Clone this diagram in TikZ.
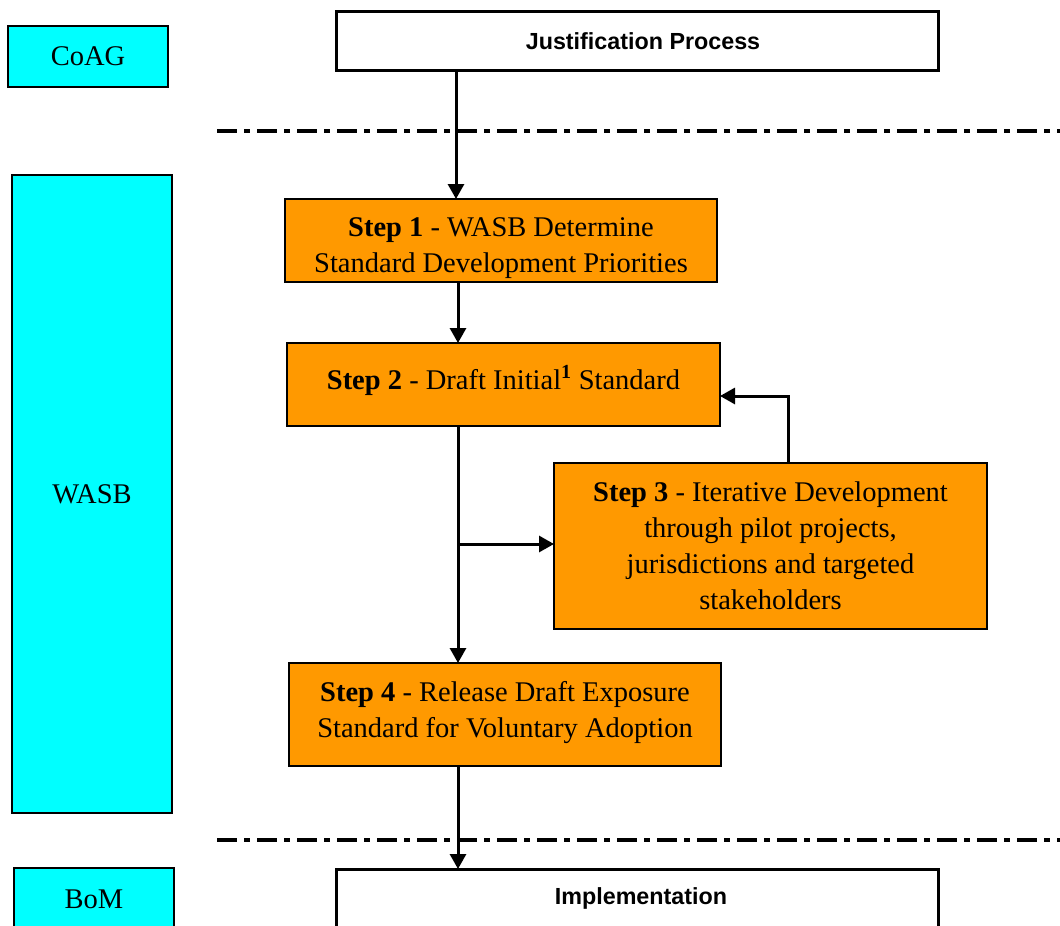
\documentclass[tikz,border=0pt]{standalone}
\usepackage{fontspec}
\setmainfont{Liberation Serif}
\newfontfamily\arialfont{Liberation Sans}
\usetikzlibrary{arrows.meta}
\definecolor{boxorange}{HTML}{FF9900}
\definecolor{boxcyan}{HTML}{00FFFF}
\tikzset{
  role/.style={draw=black, line width=1.2pt, fill=boxcyan, inner sep=0pt, outer sep=0pt,
    font=\fontsize{28.5}{36}\selectfont},
  stepbox/.style={draw=black, line width=1.2pt, fill=boxorange, inner sep=0pt, outer sep=0pt},
  steptext/.style={inner sep=0pt, align=center, font=\fontsize{28.5}{36}\selectfont},
  phase/.style={draw=black, line width=3pt, fill=white, inner sep=0pt, outer sep=0pt},
  phasetext/.style={inner sep=0pt, font=\arialfont\bfseries\fontsize{23.3}{28}\selectfont},
  arr/.style={line width=3pt, -{Triangle[length=15pt,width=16pt]}},
  divider/.style={line width=4pt, dash pattern=on 20pt off 7pt on 6pt off 7pt},
}
\begin{document}
\begin{tikzpicture}[x=1pt,y=-1pt]
\clip (0,0) rectangle (1060,926);
\fill[white] (0,0) rectangle (1060,926);

% lane labels
\node[role, minimum width=160pt, minimum height=61pt] (coag) at (88,56.5) {CoAG};
\node[role, minimum width=160pt, minimum height=638pt] (wasb) at (92,494) {WASB};
\node[role, minimum width=160pt, minimum height=120pt] (bom) at (94,928) {};
\node[steptext] (bomtext) at (94,899) {BoM};

% dividers
\coordinate (d1l) at (217,131);
\coordinate (d1r) at (1062,131);
\coordinate (d2l) at (217,840);
\coordinate (d2r) at (1062,840);
\draw[divider] (d1l) -- (d1r);
\draw[divider] (d2l) -- (d2r);

% phase boxes
\node[phase, minimum width=602pt, minimum height=59pt] (just) at (637,40.5) {};
\node[phasetext] (justtext) at (643,41.5) {Justification Process};
\node[phase, minimum width=602pt, minimum height=120pt] (impl) at (637,929) {};
\node[phasetext] (impltext) at (641,898) {Implementation};

% steps
\node[stepbox, minimum width=432pt, minimum height=83pt] (step1) at (501,240.5) {};
\node[steptext] (step1text) at (501,248.5)
  {\textbf{Step 1} - WASB Determine\\Standard Development Priorities};
\node[stepbox, minimum width=433pt, minimum height=83pt] (step2) at (503.5,384.5) {};
\node[steptext] (step2text) at (503.5,380.5)
  {\textbf{Step 2} - Draft Initial\raisebox{2pt}{\textsuperscript{\textbf{1}}} Standard};
\node[stepbox, minimum width=433pt, minimum height=166pt] (step3) at (770.5,546) {};
\node[steptext] (step3text) at (770.5,546)
  {\textbf{Step 3} - Iterative Development\\through pilot projects,\\jurisdictions and targeted\\stakeholders};
\node[stepbox, minimum width=432pt, minimum height=103pt] (step4) at (505,714.5) {};
\node[steptext] (step4text) at (505,712.5)
  {\textbf{Step 4} - Release Draft Exposure\\Standard for Voluntary Adoption};

% connectors
\coordinate (xa) at (456,0);
\coordinate (xb) at (458,0);
\coordinate (xc) at (788,0);
\coordinate (yb) at (0,544);
\coordinate (yr) at (0,396);
\draw[arr] (just.south -| xa) -- (step1.north -| xa);
\draw[arr] (step1.south -| xb) -- (step2.north -| xb);
\draw[arr] (step2.south -| xb) -- (step4.north -| xb);
\draw[arr] (xb |- yb) -- (step3.west |- yb);
\draw[arr] (step3.north -| xc) -- (xc |- yr) -- (step2.east |- yr);
\draw[arr] (step4.south -| xb) -- (impl.north -| xb);
\end{tikzpicture}
\end{document}
